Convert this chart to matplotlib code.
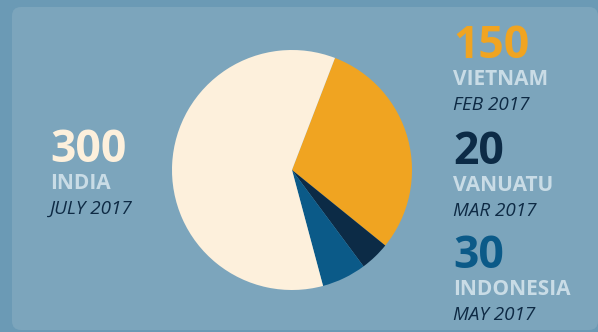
import matplotlib
import matplotlib.pyplot as plt
from matplotlib.patches import FancyBboxPatch

matplotlib.use("Agg")

# Shipments by country
countries = ["VIETNAM", "VANUATU", "INDONESIA", "INDIA"]
values = [150, 20, 30, 300]
dates = ["FEB 2017", "MAR 2017", "MAY 2017", "JULY 2017"]
colors = ["#f0a421", "#0c2b46", "#0b5a88", "#fdf0dc"]

BG = "#6b9ab5"
PANEL = "#7ca5bc"
NAME_COLOR = "#c9dce6"
DATE_COLOR = "#0e2a44"

plt.rcParams["font.family"] = ["Open Sans", "DejaVu Sans"]

W, H = 598, 332
fig = plt.figure(figsize=(W / 100, H / 100), dpi=100, facecolor=BG)
ax = fig.add_axes([0, 0, 1, 1])
ax.set_facecolor(BG)

panel = FancyBboxPatch(
    (12, 2), 586, 323,
    boxstyle="round,pad=0,rounding_size=9",
    facecolor=PANEL, edgecolor="none", zorder=0,
)
ax.add_patch(panel)

ax.pie(
    values,
    colors=colors,
    startangle=69,
    counterclock=False,
    center=(292, 162),
    radius=120,
    wedgeprops=dict(linewidth=0),
)
ax.set_xlim(0, W)
ax.set_ylim(0, H)
ax.set_aspect("equal")
ax.axis("off")


def label(x, y_base, value, name, date, value_color):
    # y_base is the baseline of the number, measured from the top edge
    ax.text(x, H - y_base, str(value), color=value_color, fontsize=32,
            fontweight="bold", va="baseline", ha="left")
    ax.text(x, H - y_base - 27, name, color=NAME_COLOR, fontsize=15,
            fontweight="bold", va="baseline", ha="left")
    ax.text(x, H - y_base - 52, date, color=DATE_COLOR, fontsize=13.6,
            fontstyle="italic", va="baseline", ha="left")


label(453, 58, values[0], countries[0], dates[0], colors[0])
label(453, 164, values[1], countries[1], dates[1], colors[1])
label(453, 268, values[2], countries[2], dates[2], colors[2])
label(50, 162, values[3], countries[3], dates[3], colors[3])

fig.savefig("out.png", dpi=100, facecolor=BG)
